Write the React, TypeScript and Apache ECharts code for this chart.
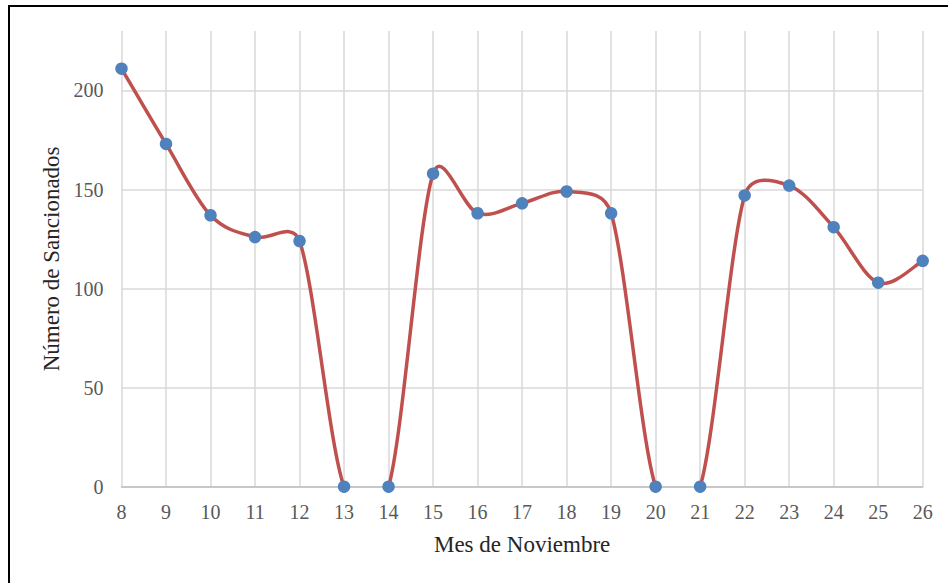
import React, { useEffect, useRef } from "react";
import * as echarts from "echarts";

const days = ["8", "9", "10", "11", "12", "13", "14", "15", "16", "17", "18", "19", "20", "21", "22", "23", "24", "25", "26"];
const sancionados = [211, 173, 137, 126, 124, 0, 0, 158, 138, 143, 149, 138, 0, 0, 147, 152, 131, 103, 114];
const xTitle = "Mes de Noviembre";
const yTitle = "Número de Sancionados";

// Excel-like smoothed path through pixel points
function smoothPath(pts: number[][]): string {
  const n = pts.length;
  if (n === 0) return "";
  let d = `M${pts[0][0]},${pts[0][1]}`;
  const ctrl = (i: number, seg: number) => {
    const p0 = pts[Math.max(0, i - 1)];
    const p2 = pts[Math.min(n - 1, i + 1)];
    let tx = (p2[0] - p0[0]) / 6;
    let ty = (p2[1] - p0[1]) / 6;
    const len = Math.hypot(tx, ty);
    const lim = seg / 2;
    if (len > lim && len > 0) {
      tx *= lim / len;
      ty *= lim / len;
    }
    return [tx, ty];
  };
  for (let i = 0; i < n - 1; i++) {
    const a = pts[i];
    const b = pts[i + 1];
    const seg = Math.hypot(b[0] - a[0], b[1] - a[1]);
    const ta = ctrl(i, seg);
    const tb = ctrl(i + 1, seg);
    d += ` C${a[0] + ta[0]},${a[1] + ta[1]} ${b[0] - tb[0]},${b[1] - tb[1]} ${b[0]},${b[1]}`;
  }
  return d;
}

export default function App() {
  const ref = useRef<HTMLDivElement>(null);
  useEffect(() => {
    if (!ref.current) return;
    const chart = echarts.init(ref.current, null, { renderer: "svg" });
    const font = "'Liberation Serif', 'Times New Roman', serif";
    const pairs = sancionados.map((v, i) => [i, v]);
    chart.setOption({
      animation: false,
      backgroundColor: "#ffffff",
      graphic: [
        {
          type: "rect",
          shape: { x: 9, y: 6, width: 1000, height: 1000 },
          style: { fill: "none", stroke: "#000000", lineWidth: 2 },
          silent: true,
        },
      ],
      grid: { left: 121.5, right: 25.3, top: 31, bottom: 96.3, containLabel: false },
      xAxis: {
        type: "category",
        data: days,
        boundaryGap: false,
        axisLine: { show: true, lineStyle: { color: "#bfbfbf", width: 1.5 } },
        axisTick: { show: false },
        splitLine: { show: true, lineStyle: { color: "#d9d9d9", width: 1.5 } },
        axisLabel: { color: "#595959", fontFamily: font, fontSize: 20, margin: 15 },
        name: xTitle,
        nameLocation: "middle",
        nameGap: 46,
        nameTextStyle: { color: "#262626", fontFamily: font, fontSize: 23 },
      },
      yAxis: {
        type: "value",
        min: 0,
        max: 230,
        interval: 50,
        axisLine: { show: false },
        axisTick: { show: false },
        splitLine: { show: true, showMaxLine: false, lineStyle: { color: "#d9d9d9", width: 1.5 } },
        axisLabel: { color: "#595959", fontFamily: font, fontSize: 20, margin: 18, showMaxLabel: false },
        name: yTitle,
        nameLocation: "middle",
        nameGap: 58,
        nameRotate: 90,
        nameTextStyle: { color: "#262626", fontFamily: font, fontSize: 23 },
      },
      series: [
        {
          type: "custom",
          data: pairs,
          clip: true,
          z: 3,
          silent: true,
          renderItem: (params: any, api: any) => {
            if (params.dataIndex !== 0) return null;
            const pts = sancionados.map((v, i) => api.coord([i, v]));
            return {
              type: "path",
              shape: { pathData: smoothPath(pts) },
              style: { fill: "none", stroke: "#C0504D", lineWidth: 3.5, lineJoin: "round", lineCap: "round" },
            };
          },
        },
        {
          type: "scatter",
          data: pairs,
          symbol: "circle",
          symbolSize: 12.5,
          itemStyle: { color: "#4F81BD", opacity: 1 },
          z: 4,
        },
      ],
    });
    return () => chart.dispose();
  }, []);
  return (
    <div
      ref={ref}
      style={{ position: "fixed", left: 0, top: 0, width: 948, height: 583, background: "#fff" }}
    />
  );
}
